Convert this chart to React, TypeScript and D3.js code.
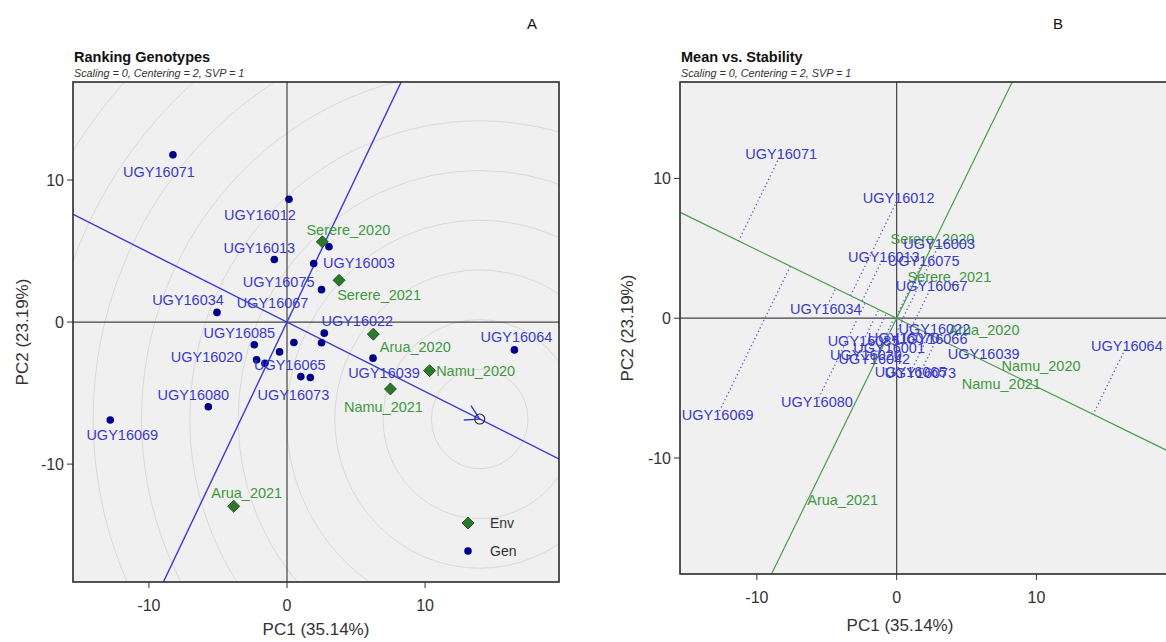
import React from 'react';
import * as d3 from 'd3';

// genotype scores (PC1, PC2)
const genNames = [
  'UGY16071', 'UGY16012', 'UGY16003', 'UGY16013', 'UGY16075', 'UGY16067', 'UGY16034',
  'UGY16085', 'UGY16020', 'UGY16042', 'UGY16001', 'UGY16070', 'UGY16022', 'UGY16066',
  'UGY16039', 'UGY16065', 'UGY16073', 'UGY16080', 'UGY16069', 'UGY16064',
];
const genPC1 = [-8.26, 0.14, 3.04, -0.92, 1.93, 2.5, -5.07, -2.37, -2.2, -1.6, -0.54, 0.5, 2.7, 2.5, 6.23, 1.0, 1.69, -5.7, -12.8, 16.47];
const genPC2 = [11.77, 8.64, 5.3, 4.4, 4.12, 2.28, 0.68, -1.6, -2.66, -2.9, -2.1, -1.44, -0.78, -1.46, -2.54, -3.84, -3.9, -5.96, -6.9, -1.96];

// environment scores
const envNames = ['Serere_2020', 'Serere_2021', 'Arua_2020', 'Namu_2020', 'Namu_2021', 'Arua_2021'];
const envPC1 = [2.56, 3.77, 6.25, 10.33, 7.49, -3.86];
const envPC2 = [5.65, 2.94, -0.85, -3.42, -4.71, -12.97];

// ideal genotype marker on the average-environment axis
const idealPC1 = 13.96;
const idealPC2 = -6.83;
const ringStep = 3.5;

const tickValues = [-10, 0, 10];
const xTitle = 'PC1 (35.14%)';
const yTitle = 'PC2 (23.19%)';
const subtitle = 'Scaling = 0, Centering = 2, SVP = 1';

const xDomain = [-15.5, 19.7];
const yDomain = [-18.3, 16.9];

// label offsets in panel A (px), like a repel layout; genotypes not listed get no label
const genNudge: Record<string, [number, number]> = {
  UGY16071: [-14, 17], UGY16012: [-29, 16], UGY16003: [30, 16], UGY16013: [-15, -12],
  UGY16075: [-35, 18], UGY16067: [-49, 13], UGY16034: [-29, -12], UGY16085: [-15, -12],
  UGY16020: [-50, -3], UGY16022: [33, -12], UGY16039: [11, 15], UGY16065: [-11, -12],
  UGY16073: [-17, 17], UGY16080: [-15, -12], UGY16069: [12, 15], UGY16064: [2, -13],
};
const envNudge: Record<string, [number, number]> = {
  Serere_2020: [26, -12], Serere_2021: [40, 15], Arua_2020: [42, 13],
  Namu_2020: [46, 0], Namu_2021: [-7, 18], Arua_2021: [13, -13],
};

const font = "'Liberation Sans', Arial, Helvetica, sans-serif";
const genText = '#3a3ac8';
const genDot = '#00008b';
const envText = '#3f983f';
const envFill = '#2b7a2b';
const blueLine = '#3a3ad0';
const greenLine = '#4a9e4a';

const gens = genNames.map((name, i) => ({ name, pc1: genPC1[i], pc2: genPC2[i] }));
const envs = envNames.map((name, i) => ({ name, pc1: envPC1[i], pc2: envPC2[i] }));

const len = Math.hypot(idealPC1, idealPC2);
const u = [idealPC1 / len, idealPC2 / len];
const v = [-u[1], u[0]];

type Box = { left: number; right: number; top: number; bottom: number };

function Frame({ box, x, y, id, title, tag, tagX, yTitleX, xTitleX, xTitleY, children }: any) {
  return (
    <g fontFamily={font}>
      <text x={tagX} y={29} fontSize={15} fill="#111">{tag}</text>
      <text x={box.left + 1} y={62} fontSize={14.5} fontWeight="bold" fill="#111">{title}</text>
      <text x={box.left + 1} y={77} fontSize={10.8} fontStyle="italic" fill="#333">{subtitle}</text>
      <defs>
        <clipPath id={id}>
          <rect x={box.left} y={box.top} width={box.right - box.left} height={box.bottom - box.top} />
        </clipPath>
      </defs>
      <rect x={box.left} y={box.top} width={box.right - box.left} height={box.bottom - box.top} fill="#f0f0f0" />
      <g clipPath={`url(#${id})`}>
        {children}
      </g>
      <rect x={box.left} y={box.top} width={box.right - box.left} height={box.bottom - box.top}
        fill="none" stroke="#2b2b2b" strokeWidth={1.6} />
      {tickValues.map(t => (
        <g key={'x' + t}>
          <line x1={x(t)} x2={x(t)} y1={box.bottom} y2={box.bottom + 6} stroke="#333" />
          <text x={x(t)} y={box.bottom + 29} textAnchor="middle" fontSize={16} fill="#333">{t}</text>
        </g>
      ))}
      {tickValues.map(t => (
        <g key={'y' + t}>
          <line x1={box.left - 6} x2={box.left} y1={y(t)} y2={y(t)} stroke="#333" />
          <text x={box.left - 9} y={y(t)} dy="0.35em" textAnchor="end" fontSize={16} fill="#333">{t}</text>
        </g>
      ))}
      <text x={xTitleX} y={xTitleY} textAnchor="middle" fontSize={17} fill="#333">{xTitle}</text>
      <text transform={`translate(${yTitleX},${(box.top + box.bottom) / 2}) rotate(-90)`}
        textAnchor="middle" dy="0.35em" fontSize={17} fill="#333">{yTitle}</text>
    </g>
  );
}

function ZeroLines({ x, y }: any) {
  return (
    <g stroke="#444" strokeWidth={1.2}>
      <line x1={x(xDomain[0])} x2={x(xDomain[1])} y1={y(0)} y2={y(0)} />
      <line x1={x(0)} x2={x(0)} y1={y(yDomain[0])} y2={y(yDomain[1])} />
    </g>
  );
}

function AxisLines({ x, y, color, width }: any) {
  const far = 60;
  return (
    <g stroke={color} strokeWidth={width} fill="none">
      <line x1={x(-far * u[0])} y1={y(-far * u[1])} x2={x(far * u[0])} y2={y(far * u[1])} />
      <line x1={x(-far * v[0])} y1={y(-far * v[1])} x2={x(far * v[0])} y2={y(far * v[1])} />
    </g>
  );
}

function RankingPanel() {
  const box: Box = { left: 73, right: 559, top: 82, bottom: 582 };
  const x = d3.scaleLinear().domain(xDomain).range([box.left, box.right]);
  const y = d3.scaleLinear().domain(yDomain).range([box.bottom, box.top]);
  const kx = x(1) - x(0);
  const ky = y(0) - y(1);
  const rings = d3.range(1, 14).map(k => k * ringStep);
  const ix = x(idealPC1), iy = y(idealPC2);
  const ang = Math.atan2(iy - y(0), ix - x(0)) + Math.PI;
  const barb = (da: number) => [ix + 16 * Math.cos(ang + da), iy + 16 * Math.sin(ang + da)];
  const b1 = barb(Math.PI / 6), b2 = barb(-Math.PI / 6);
  const diamond = (cx: number, cy: number, r: number) => `M${cx},${cy - r}L${cx + r},${cy}L${cx},${cy + r}L${cx - r},${cy}Z`;

  return (
    <Frame box={box} x={x} y={y} id="clipA" title="Ranking Genotypes" tag="A" tagX={527}
      yTitleX={22} xTitleX={(box.left + box.right) / 2} xTitleY={635}>
      {rings.map(r => (
        <ellipse key={r} cx={ix} cy={iy} rx={r * kx} ry={r * ky} fill="none" stroke="#d6d6d6" strokeWidth={0.9} />
      ))}
      <ZeroLines x={x} y={y} />
      <AxisLines x={x} y={y} color={blueLine} width={1.4} />
      <polyline points={`${b1[0]},${b1[1]} ${ix},${iy} ${b2[0]},${b2[1]}`} fill="none" stroke={blueLine} strokeWidth={1.4} />
      <circle cx={ix} cy={iy} r={5} fill="none" stroke="#222" strokeWidth={1.1} />
      {envs.map(e => (
        <path key={e.name} d={diamond(x(e.pc1), y(e.pc2), 6)} fill={envFill} stroke="#1a3a1a" strokeWidth={0.8} />
      ))}
      {gens.map(g => (
        <circle key={g.name} cx={x(g.pc1)} cy={y(g.pc2)} r={3.8} fill={genDot} />
      ))}
      <g fontFamily={font} fontSize={14.5} textAnchor="middle">
        {envs.map(e => (
          <text key={e.name} x={x(e.pc1) + envNudge[e.name][0]} y={y(e.pc2) + envNudge[e.name][1]} dy="0.35em" fill={envText}>{e.name}</text>
        ))}
        {gens.filter(g => genNudge[g.name]).map(g => (
          <text key={g.name} x={x(g.pc1) + genNudge[g.name][0]} y={y(g.pc2) + genNudge[g.name][1]} dy="0.35em" fill={genText}>{g.name}</text>
        ))}
      </g>
      <g fontFamily={font} fontSize={14} fill="#333">
        <path d={diamond(468, 523, 6)} fill={envFill} stroke="#1a3a1a" strokeWidth={0.8} />
        <text x={490} y={523} dy="0.35em">Env</text>
        <circle cx={468} cy={551} r={3.8} fill={genDot} />
        <text x={490} y={551} dy="0.35em">Gen</text>
      </g>
    </Frame>
  );
}

function StabilityPanel() {
  const box: Box = { left: 680, right: 1172, top: 82, bottom: 574 };
  const x = d3.scaleLinear().domain(xDomain).range([box.left, box.right]);
  const y = d3.scaleLinear().domain(yDomain).range([box.bottom, box.top]);
  const proj = (g: any) => {
    const d = g.pc1 * u[0] + g.pc2 * u[1];
    return [d * u[0], d * u[1]];
  };
  return (
    <Frame box={box} x={x} y={y} id="clipB" title="Mean vs. Stability" tag="B" tagX={1053}
      yTitleX={627} xTitleX={900} xTitleY={631}>
      <ZeroLines x={x} y={y} />
      <AxisLines x={x} y={y} color={greenLine} width={1.2} />
      {gens.map(g => {
        const p = proj(g);
        return (
          <line key={g.name} x1={x(g.pc1)} y1={y(g.pc2)} x2={x(p[0])} y2={y(p[1])}
            stroke="#5a5ad8" strokeWidth={1.3} strokeDasharray="1.3 2.7" />
        );
      })}
      <g fontFamily={font} fontSize={14.5} textAnchor="middle">
        {envs.map(e => (
          <text key={e.name} x={x(e.pc1)} y={y(e.pc2)} dy="0.35em" fill={envText}>{e.name}</text>
        ))}
        {gens.map(g => (
          <text key={g.name} x={x(g.pc1)} y={y(g.pc2)} dy="0.35em" fill={genText}>{g.name}</text>
        ))}
      </g>
    </Frame>
  );
}

export default function App() {
  return (
    <svg width={1166} height={642} viewBox="0 0 1166 642"
      style={{ position: 'absolute', left: 0, top: 0, background: '#fff' }}>
      <rect width={1166} height={642} fill="#fff" />
      <RankingPanel />
      <StabilityPanel />
    </svg>
  );
}
